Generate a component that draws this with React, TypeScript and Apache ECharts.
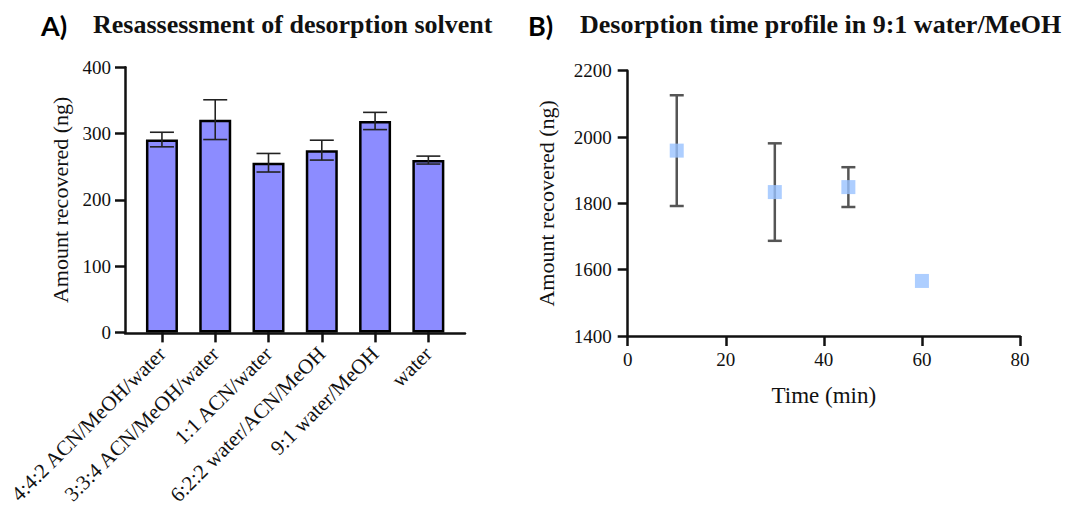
import React, { useEffect, useRef } from "react";
import * as echarts from "echarts";

const solvents = [
  "4:4:2 ACN/MeOH/water",
  "3:3:4 ACN/MeOH/water",
  "1:1 ACN/water",
  "6:2:2 water/ACN/MeOH",
  "9:1 water/MeOH",
  "water",
];
const solventMeans = [291, 321, 256, 275, 319, 260];
const solventErrors = [11, 30, 14, 15, 13, 6];

const times = [10, 30, 45, 60];
const timeMeans = [1959, 1834, 1849, 1566];
const timeErrors = [167, 147, 60, 0];

const barTicks = [0, 100, 200, 300, 400];
const timeYTicks = [1400, 1600, 1800, 2000, 2200];
const timeXTicks = [0, 20, 40, 60, 80];

const SERIF = "Liberation Serif";
const INK = "#111";

function errorRenderer(color: string, lineWidth: number, cap: number) {
  return (params: any, api: any) => {
    const x = api.value(0);
    const y = api.value(1);
    const e = api.value(2);
    if (!e) return null;
    const top = api.coord([x, y + e]);
    const bot = api.coord([x, y - e]);
    const h = cap / 2;
    const style = { stroke: color, lineWidth };
    return {
      type: "group",
      children: [
        { type: "line", shape: { x1: top[0], y1: top[1], x2: bot[0], y2: bot[1] }, style },
        { type: "line", shape: { x1: top[0] - h, y1: top[1], x2: top[0] + h, y2: top[1] }, style },
        { type: "line", shape: { x1: bot[0] - h, y1: bot[1], x2: bot[0] + h, y2: bot[1] }, style },
      ],
    };
  };
}

const plain = (v: number) => String(v);

export default function App() {
  const ref = useRef<HTMLDivElement>(null);
  useEffect(() => {
    if (!ref.current) return;
    const chart = echarts.init(ref.current, undefined, { renderer: "svg" });
    const axisLine = { show: true, lineStyle: { color: INK, width: 2.5 } };
    const axisTick = { show: true, length: 10, lineStyle: { color: INK, width: 2.5 } };
    const tickLabel = { color: INK, fontFamily: SERIF, fontSize: 19 };
    const option: any = {
      animation: false,
      backgroundColor: "#ffffff",
      textStyle: { fontFamily: SERIF },
      graphic: [
        { type: "text", left: 41, top: 12, style: { text: "A)", font: "bold 27px Lato", fill: "#000" } },
        { type: "text", left: 93, top: 11, style: { text: "Resassessment of desorption solvent", font: `bold 26px ${SERIF}`, fill: INK } },
        { type: "text", left: 528, top: 12, style: { text: "B)", font: "bold 27px Lato", fill: "#000" } },
        { type: "text", left: 580, top: 11, style: { text: "Desorption time profile in 9:1 water/MeOH", font: `bold 26px ${SERIF}`, fill: INK } },
      ],
      grid: [
        { left: 135.3, top: 67.3, width: 319.7, height: 266 },
        { left: 125, top: 67.3, width: 340, height: 266 },
        { left: 627.7, top: 70.7, width: 392.3, height: 265.3 },
      ],
      xAxis: [
        {
          type: "category",
          gridIndex: 0,
          data: solvents,
          axisLine: { show: false },
          axisTick: { ...axisTick, alignWithLabel: true },
          axisLabel: { ...tickLabel, fontSize: 21, rotate: 45, margin: 18, interval: 0 },
          splitLine: { show: false },
        },
        {
          type: "value",
          gridIndex: 1,
          min: 0,
          max: 1,
          axisLine,
          axisTick: { show: false },
          axisLabel: { show: false },
          splitLine: { show: false },
        },
        {
          type: "value",
          gridIndex: 2,
          min: timeXTicks[0],
          max: timeXTicks[timeXTicks.length - 1],
          interval: timeXTicks[1] - timeXTicks[0],
          name: "Time (min)",
          nameLocation: "middle",
          nameGap: 48,
          nameTextStyle: { color: INK, fontFamily: SERIF, fontSize: 23 },
          axisLine,
          axisTick,
          axisLabel: { ...tickLabel, margin: 14, formatter: plain },
          splitLine: { show: false },
        },
      ],
      yAxis: [
        {
          type: "value",
          gridIndex: 0,
          offset: 10.3,
          min: barTicks[0],
          max: barTicks[barTicks.length - 1],
          interval: barTicks[1] - barTicks[0],
          name: "Amount recovered (ng)",
          nameLocation: "middle",
          nameGap: 54,
          nameTextStyle: { color: INK, fontFamily: SERIF, fontSize: 22 },
          axisLine,
          axisTick,
          axisLabel: { ...tickLabel, margin: 14, formatter: plain },
          splitLine: { show: false },
        },
        { type: "value", gridIndex: 1, show: false, min: 0, max: 1 },
        {
          type: "value",
          gridIndex: 2,
          min: timeYTicks[0],
          max: timeYTicks[timeYTicks.length - 1],
          interval: timeYTicks[1] - timeYTicks[0],
          name: "Amount recovered (ng)",
          nameLocation: "middle",
          nameGap: 70,
          nameTextStyle: { color: INK, fontFamily: SERIF, fontSize: 22 },
          axisLine,
          axisTick,
          axisLabel: { ...tickLabel, margin: 16, formatter: plain },
          splitLine: { show: false },
        },
      ],
      series: [
        {
          type: "bar",
          xAxisIndex: 0,
          yAxisIndex: 0,
          data: solventMeans,
          barWidth: 32,
          itemStyle: { color: "#8c8cff", borderColor: "#000", borderWidth: 2.5 },
          z: 2,
        },
        {
          type: "custom",
          xAxisIndex: 0,
          yAxisIndex: 0,
          data: solvents.map((s, i) => [i, solventMeans[i], solventErrors[i]]),
          encode: { x: 0, y: 1 },
          renderItem: errorRenderer("#222", 1.6, 24),
          z: 5,
        },
        {
          type: "custom",
          xAxisIndex: 2,
          yAxisIndex: 2,
          data: times.map((t, i) => [t, timeMeans[i], timeErrors[i]]),
          encode: { x: 0, y: 1 },
          renderItem: errorRenderer("#555", 2.5, 14),
          z: 2,
        },
        {
          type: "scatter",
          xAxisIndex: 2,
          yAxisIndex: 2,
          data: times.map((t, i) => [t, timeMeans[i]]),
          symbol: "rect",
          symbolSize: 14,
          itemStyle: { color: "#99c2ff" },
          z: 5,
        },
      ],
    };
    chart.setOption(option);
    return () => chart.dispose();
  }, []);
  return (
    <div
      ref={ref}
      style={{ position: "fixed", left: 0, top: 0, width: 1070, height: 508, background: "#fff" }}
    />
  );
}
